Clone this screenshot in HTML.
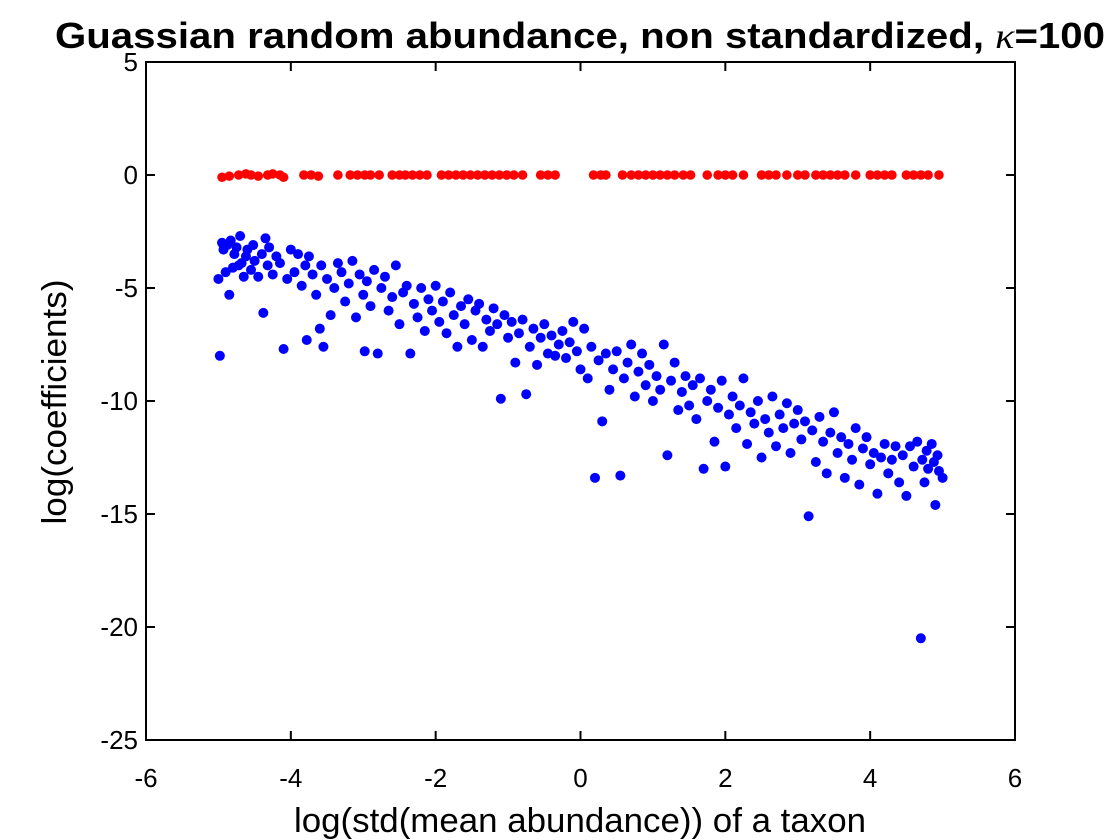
<!DOCTYPE html>
<html><head><meta charset="utf-8"><style>
html,body{margin:0;padding:0;background:#fff;}
svg{display:block;font-family:"Liberation Sans",Arial,sans-serif;}
</style></head><body>
<svg id="chart" width="1120" height="840" viewBox="0 0 1120 840">
<rect width="1120" height="840" fill="#fff"/>
<text x="580" y="48" text-anchor="middle" font-size="36" font-weight="bold" textLength="1050" lengthAdjust="spacingAndGlyphs">Guassian random abundance, non standardized, <tspan font-family="Liberation Serif,serif" font-style="italic" font-weight="normal">κ</tspan>=100</text>
<g id="axes"></g>
<g id="marks"></g>
<text x="580" y="832" text-anchor="middle" font-size="34" textLength="572" lengthAdjust="spacingAndGlyphs">log(std(mean abundance)) of a taxon</text>
<text transform="translate(66,402) rotate(-90)" text-anchor="middle" font-size="34" textLength="245" lengthAdjust="spacingAndGlyphs">log(coefficients)</text>
</svg>
<script>
const xTicks=[-6,-4,-2,0,2,4,6];
const yTicks=[5,0,-5,-10,-15,-20,-25];
const redX=[-4.95,-4.85,-4.72,-4.62,-4.55,-4.45,-4.32,-4.25,-4.15,-4.1,-3.82,-3.72,-3.62,-3.35,-3.18,-3.08,-2.98,-2.9,-2.78,-2.6,-2.5,-2.42,-2.32,-2.22,-2.12,-1.92,-1.82,-1.72,-1.62,-1.52,-1.42,-1.32,-1.22,-1.12,-1.02,-0.92,-0.8,-0.55,-0.45,-0.35,0.18,0.28,0.35,0.58,0.7,0.8,0.9,1.0,1.1,1.2,1.3,1.42,1.52,1.75,1.9,2.0,2.1,2.25,2.5,2.6,2.7,2.85,3.0,3.1,3.25,3.35,3.45,3.55,3.65,3.8,4.0,4.1,4.2,4.3,4.5,4.6,4.7,4.8,4.95];
const redY=[-0.1,-0.05,0,0.05,0,-0.05,0,0.05,0,-0.1,0,0,-0.05,0,0,0,0,0,0,0,0,0,0,0,0,0,0,0,0,0,0,0,0,0,0,0,0,0,0,0,0,0,0,0,0,0,0,0,0,0,0,0,0,0,0,0,0,0,0,0,0,0,0,0,0,0,0,0,0,0,0,0,0,0,0,0,0,0,0];
const blueX=[-5,-4.98,-4.95,-4.93,-4.9,-4.88,-4.85,-4.83,-4.8,-4.78,-4.75,-4.72,-4.7,-4.68,-4.65,-4.62,-4.6,-4.55,-4.52,-4.5,-4.45,-4.4,-4.38,-4.35,-4.32,-4.3,-4.25,-4.2,-4.15,-4.1,-4.05,-4,-3.95,-3.9,-3.85,-3.8,-3.78,-3.75,-3.7,-3.65,-3.6,-3.58,-3.55,-3.5,-3.45,-3.4,-3.35,-3.3,-3.25,-3.2,-3.15,-3.1,-3.05,-3,-2.98,-2.95,-2.9,-2.85,-2.8,-2.75,-2.7,-2.65,-2.6,-2.55,-2.5,-2.45,-2.4,-2.35,-2.3,-2.25,-2.2,-2.15,-2.1,-2.05,-2,-1.95,-1.9,-1.85,-1.8,-1.75,-1.7,-1.65,-1.6,-1.55,-1.5,-1.45,-1.4,-1.35,-1.3,-1.25,-1.2,-1.15,-1.1,-1.05,-1,-0.95,-0.9,-0.85,-0.8,-0.75,-0.7,-0.65,-0.6,-0.55,-0.5,-0.45,-0.4,-0.35,-0.3,-0.25,-0.2,-0.15,-0.1,-0.05,0,0.05,0.1,0.15,0.2,0.25,0.3,0.35,0.4,0.45,0.5,0.55,0.6,0.65,0.7,0.75,0.8,0.85,0.9,0.95,1,1.05,1.1,1.15,1.2,1.25,1.3,1.35,1.4,1.45,1.5,1.55,1.6,1.65,1.7,1.75,1.8,1.85,1.9,1.95,2,2.05,2.1,2.15,2.2,2.25,2.3,2.35,2.4,2.45,2.5,2.55,2.6,2.65,2.7,2.75,2.8,2.85,2.9,2.95,3,3.05,3.1,3.15,3.2,3.25,3.3,3.35,3.4,3.45,3.5,3.55,3.6,3.65,3.7,3.75,3.8,3.85,3.9,3.95,4,4.05,4.1,4.15,4.2,4.25,4.3,4.35,4.4,4.45,4.5,4.55,4.6,4.65,4.7,4.72,4.75,4.78,4.8,4.85,4.88,4.9,4.93,4.95,5];
const blueY=[-4.6,-8,-3,-3.3,-4.3,-3.1,-5.3,-2.9,-4.1,-3.5,-3.2,-4,-2.7,-3.9,-4.5,-3.6,-3.3,-4.2,-3.1,-3.8,-4.5,-3.5,-6.1,-2.8,-4,-3.2,-4.4,-3.6,-3.9,-7.7,-4.6,-3.3,-4.3,-3.5,-4.9,-4,-7.3,-3.6,-4.4,-5.3,-6.8,-4,-7.6,-4.6,-6.2,-5,-3.9,-4.3,-5.6,-4.8,-3.8,-6.3,-4.4,-5.3,-7.8,-4.7,-5.8,-4.2,-7.9,-5,-4.5,-6,-5.4,-4,-6.6,-5.2,-4.9,-7.9,-5.7,-6.3,-5,-6.9,-5.5,-6,-4.9,-6.5,-5.6,-7,-5.2,-6.2,-7.6,-5.8,-6.6,-5.5,-7.3,-6,-5.7,-7.6,-6.4,-6.9,-5.9,-6.6,-9.9,-6.2,-7.2,-6.5,-8.3,-7,-6.4,-9.7,-7.6,-6.8,-8.4,-7.2,-6.6,-7.9,-7.1,-8,-7.5,-6.9,-8.1,-7.4,-6.5,-7.8,-8.6,-6.8,-9,-7.6,-13.4,-8.2,-10.9,-7.9,-9.5,-8.6,-7.8,-13.3,-9,-8.3,-7.5,-9.8,-8.7,-7.9,-9.3,-8.4,-10,-8.9,-9.5,-7.5,-12.4,-9.1,-8.3,-10.4,-9.6,-8.9,-10.2,-9.3,-10.8,-9,-13,-10,-9.5,-11.8,-10.3,-9.1,-12.9,-10.6,-9.8,-11.2,-10.2,-9,-11.9,-10.5,-11,-10,-12.5,-10.8,-11.4,-9.8,-12,-10.6,-11.2,-10.1,-12.3,-11,-10.4,-11.7,-10.9,-15.1,-11.3,-12.7,-10.7,-11.8,-13.2,-11.4,-10.5,-12.3,-11.6,-13.4,-11.9,-12.6,-11.2,-13.7,-12.1,-11.6,-12.8,-12.3,-14.1,-12.5,-11.9,-13.2,-12.6,-12,-13.6,-12.4,-14.2,-12,-12.9,-11.8,-20.5,-12.6,-13.6,-12.2,-13,-11.9,-12.7,-14.6,-12.4,-13.1,-13.4];

const X0=146,X1=1015,Y0=62,Y1=740;
function sx(v){return X0+(v-(-6))/(12)*(X1-X0);}
function sy(v){return Y0+(5-v)/30*(Y1-Y0);}
const NS="http://www.w3.org/2000/svg";
function mk(tag,attrs,parent){const e=document.createElementNS(NS,tag);for(const k in attrs)e.setAttribute(k,attrs[k]);parent.appendChild(e);return e;}
const axes=document.getElementById('axes'), marks=document.getElementById('marks');
const box=mk('rect',{x:X0,y:Y0,width:X1-X0,height:Y1-Y0,fill:'none',stroke:'#000','stroke-width':2},axes);


xTicks.forEach(t=>{
  const x=sx(t);
  const l1=mk('line',{x1:x,x2:x,y1:Y1,y2:Y1-9,stroke:'#000','stroke-width':2},axes);
  
  
  const l2=mk('line',{x1:x,x2:x,y1:Y0,y2:Y0+9,stroke:'#000','stroke-width':2},axes);
  
  
  const tx=mk('text',{x:x,y:787,'text-anchor':'middle','font-size':26},axes);
  tx.textContent=String(t);
  
  
});
yTicks.forEach(t=>{
  const y=sy(t);
  const l1=mk('line',{x1:X0,x2:X0+9,y1:y,y2:y,stroke:'#000','stroke-width':2},axes);
  
  
  const l2=mk('line',{x1:X1,x2:X1-9,y1:y,y2:y,stroke:'#000','stroke-width':2},axes);
  
  
  const tx=mk('text',{x:X0-8,y:y+9,'text-anchor':'end','font-size':26},axes);
  tx.textContent=String(t);
  
  
});
redX.forEach((v,i)=>{
  const c=mk('circle',{cx:sx(v),cy:sy(redY[i]),r:4.8,fill:'#ff0000'},marks);
  
  
});
blueX.forEach((v,i)=>{
  const c=mk('circle',{cx:sx(v),cy:sy(blueY[i]),r:5,fill:'#0000ff'},marks);
  
  
});
</script>
</body></html>
